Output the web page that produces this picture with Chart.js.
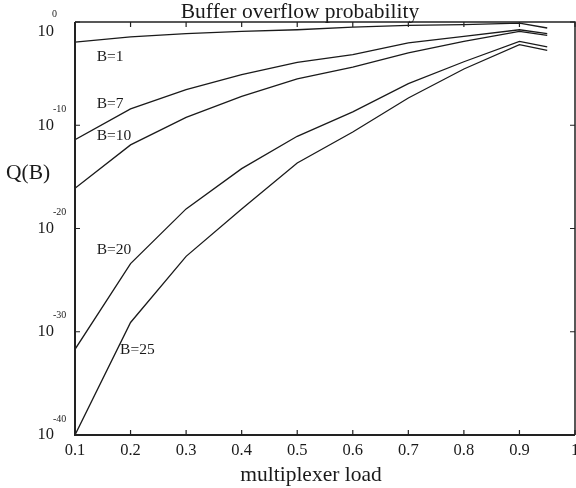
<!DOCTYPE html>
<html lang="en">
<head>
<meta charset="UTF-8">
<title>Buffer overflow probability</title>
<script src="https://cdn.jsdelivr.net/npm/chart.js"></script>
<style>
  html, body { margin: 0; padding: 0; background: #fff; }
  #wrap { width: 576px; height: 488px; }
</style>
</head>
<body>
<div id="wrap"><canvas id="qChart" width="576" height="488"></canvas></div>
<script>
// multiplexer load (x)
const loads = [0.1, 0.2, 0.3, 0.4, 0.5, 0.6, 0.7, 0.8, 0.9, 0.95];
// log10 of Q(B)
const qB1  = [-1.94, -1.45, -1.13, -0.9, -0.75, -0.49, -0.33, -0.26, -0.1, -0.58];
const qB7  = [-11.4, -8.42, -6.55, -5.1, -3.9, -3.17, -2.03, -1.39, -0.75, -1.13];
const qB10 = [-16.1, -11.9, -9.23, -7.2, -5.5, -4.36, -3.0, -1.88, -0.9, -1.3];
const qB20 = [-31.7, -23.4, -18.1, -14.2, -11.07, -8.7, -5.97, -3.85, -1.88, -2.42];
const qB25 = [-40, -29.1, -22.7, -18.1, -13.65, -10.65, -7.36, -4.55, -2.2, -2.75];

const xTicks = [0.1, 0.2, 0.3, 0.4, 0.5, 0.6, 0.7, 0.8, 0.9, 1];
const xTickLabels = ['0.1', '0.2', '0.3', '0.4', '0.5', '0.6', '0.7', '0.8', '0.9', '1'];
const yExponents = [0, -10, -20, -30, -40];

// curve labels: text, anchor load, anchor exponent
const curveLabels = [
  { text: 'B=1',  x: 0.14, e: -3.35 },
  { text: 'B=7',  x: 0.14, e: -7.95 },
  { text: 'B=10', x: 0.14, e: -11.0 },
  { text: 'B=20', x: 0.14, e: -22.1 },
  { text: 'B=25', x: 0.182, e: -31.8 },
];

const serif = '"Liberation Serif", "DejaVu Serif", serif';

const mkSet = (label, exps) => ({
  label: label,
  data: loads.map((x, i) => ({ x: x, y: Math.pow(10, exps[i]) })),
  borderColor: '#1a1a1a',
  borderWidth: 1.3,
  pointRadius: 0,
  tension: 0,
  fill: false,
});

const framePlugin = {
  id: 'frame',
  afterDraw(chart) {
    const ctx = chart.ctx;
    const a = chart.chartArea;
    const xs = chart.scales.x, ys = chart.scales.y;
    ctx.save();
    ctx.strokeStyle = '#222';
    // frame
    ctx.lineWidth = 2;
    ctx.beginPath();
    ctx.moveTo(a.left, a.top); ctx.lineTo(a.left, a.bottom); ctx.lineTo(a.right, a.bottom);
    ctx.stroke();
    ctx.lineWidth = 1.5;
    ctx.beginPath();
    ctx.moveTo(a.left, a.top); ctx.lineTo(a.right, a.top); ctx.lineTo(a.right, a.bottom);
    ctx.stroke();
    // inward ticks
    ctx.lineWidth = 1.2;
    ctx.beginPath();
    xTicks.forEach(v => {
      const px = xs.getPixelForValue(v);
      ctx.moveTo(px, a.bottom); ctx.lineTo(px, a.bottom - 5);
      ctx.moveTo(px, a.top); ctx.lineTo(px, a.top + 5);
    });
    yExponents.forEach(e => {
      const py = ys.getPixelForValue(Math.pow(10, e));
      ctx.moveTo(a.left, py); ctx.lineTo(a.left + 5, py);
      ctx.moveTo(a.right, py); ctx.lineTo(a.right - 5, py);
    });
    ctx.stroke();

    ctx.fillStyle = '#1a1a1a';
    // x tick labels
    ctx.font = '16.5px ' + serif;
    ctx.textAlign = 'center';
    ctx.textBaseline = 'middle';
    xTicks.forEach((v, i) => {
      ctx.fillText(xTickLabels[i], xs.getPixelForValue(v), a.bottom + 16);
    });
    // y tick labels as 10 with superscript
    yExponents.forEach(e => {
      let py = ys.getPixelForValue(Math.pow(10, e));
      if (e === 0) py += 10;
      ctx.font = '16.5px ' + serif;
      ctx.textAlign = 'right';
      ctx.textBaseline = 'middle';
      ctx.fillText('10', 54, py);
      ctx.font = '10px ' + serif;
      ctx.textAlign = 'left';
      ctx.fillText(String(e), e === 0 ? 52 : 53, py - (e === 0 ? 18 : 16));
    });
    // curve labels
    ctx.font = '15.5px ' + serif;
    ctx.textAlign = 'left';
    ctx.textBaseline = 'middle';
    curveLabels.forEach(l => {
      ctx.fillText(l.text, xs.getPixelForValue(l.x) - 0.5, ys.getPixelForValue(Math.pow(10, l.e)));
    });
    // titles
    ctx.font = '21.5px ' + serif;
    ctx.textAlign = 'center';
    ctx.textBaseline = 'alphabetic';
    ctx.fillText('Buffer overflow probability', 300, 18);
    ctx.fillText('multiplexer load', 311, 481);
    ctx.textAlign = 'left';
    ctx.textBaseline = 'middle';
    ctx.fillText('Q(B)', 6, 173);
    ctx.restore();
  }
};

new Chart(document.getElementById('qChart'), {
  type: 'line',
  data: {
    datasets: [
      mkSet('B=1', qB1),
      mkSet('B=7', qB7),
      mkSet('B=10', qB10),
      mkSet('B=20', qB20),
      mkSet('B=25', qB25),
    ]
  },
  options: {
    responsive: false,
    animation: false,
    layout: { padding: { top: 22, right: 1, left: 0, bottom: 0 } },
    plugins: { legend: { display: false }, tooltip: { enabled: false } },
    scales: {
      x: {
        type: 'linear',
        min: 0.1,
        max: 1,
        grid: { display: false },
        border: { display: false },
        ticks: { display: false },
        afterFit: s => { s.height = 53; },
      },
      y: {
        type: 'logarithmic',
        min: 1e-40,
        max: 1,
        grid: { display: false },
        border: { display: false },
        ticks: { display: false },
        afterFit: s => { s.width = 75; },
      }
    }
  },
  plugins: [framePlugin]
});
</script>
</body>
</html>
